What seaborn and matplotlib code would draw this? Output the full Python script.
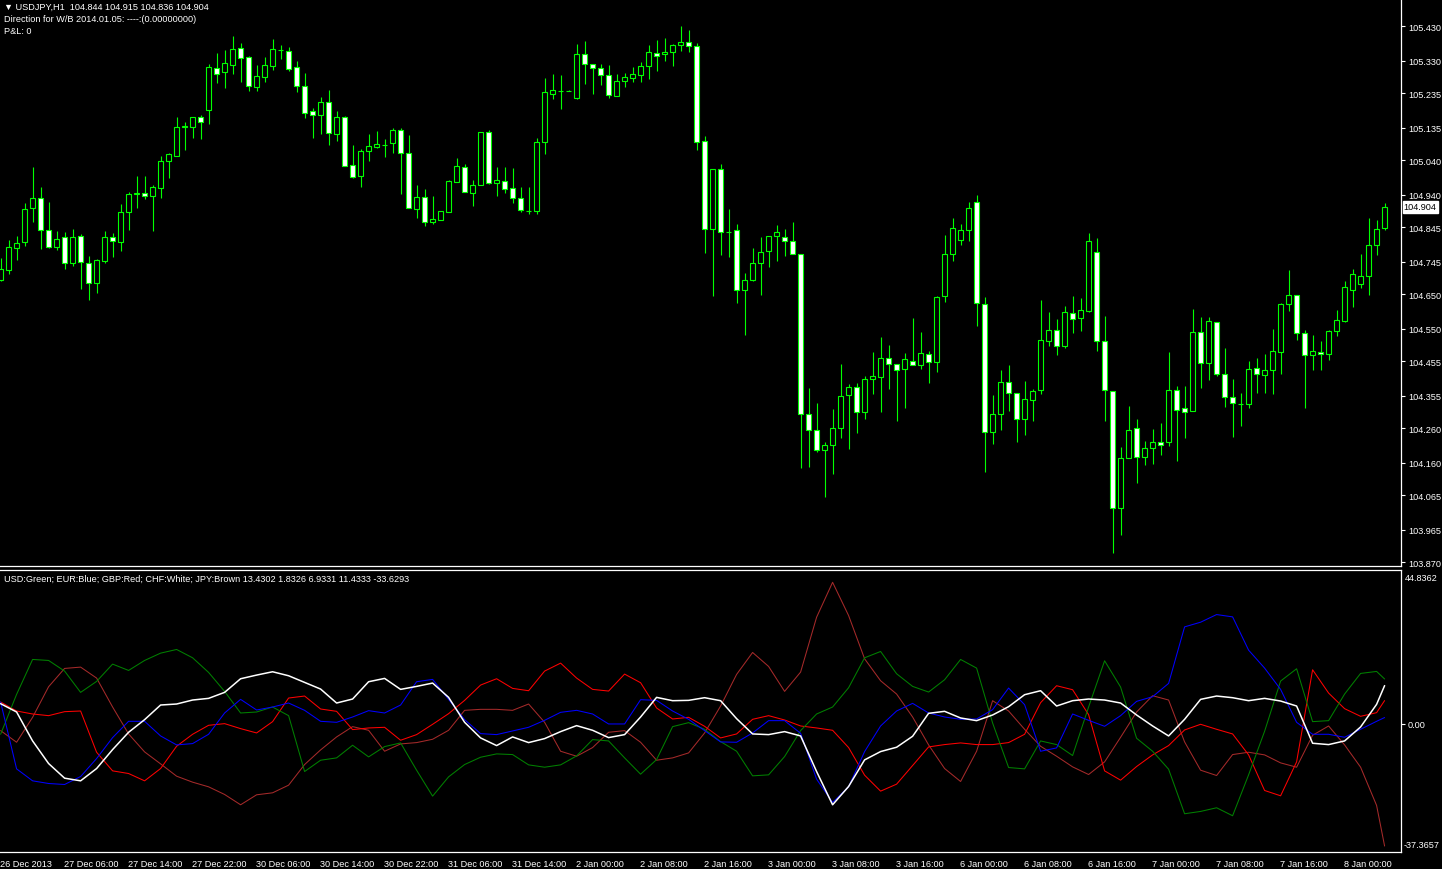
import numpy as np
import pandas as pd
import matplotlib
matplotlib.use("Agg")
import matplotlib.pyplot as plt
import matplotlib.transforms as mtransforms
import seaborn as sns

sns.set_theme(style="dark", rc={"axes.facecolor": "black", "figure.facecolor": "black"})
plt.rcParams['font.family'] = ['Liberation Sans', 'DejaVu Sans']

# ------------------------------
# USDJPY H1 candles (bar 0 = 26 Dec 2013)
# ------------------------------
opens = [104.692, 104.721, 104.783, 104.802, 104.900, 104.929, 104.838, 104.788, 104.815, 104.742,
         104.818, 104.742, 104.684, 104.747, 104.815, 104.802, 104.888, 104.941, 104.944, 104.936,
         104.958, 105.038, 105.053, 105.136, 105.137, 105.165, 105.187, 105.307, 105.297, 105.317,
         105.365, 105.339, 105.253, 105.283, 105.315, 105.361, 105.359, 105.310, 105.255, 105.183,
         105.172, 105.209, 105.117, 105.167, 105.026, 104.993, 105.068, 105.079, 105.084, 105.089,
         105.129, 105.060, 104.897, 104.932, 104.859, 104.866, 104.890, 104.977, 105.019, 104.945,
         104.969, 105.121, 104.975, 104.978, 104.958, 104.929, 104.893, 104.893, 105.092, 105.234,
         105.242, 105.242, 105.221, 105.348, 105.319, 105.307, 105.287, 105.227, 105.271, 105.280,
         105.288, 105.315, 105.353, 105.348, 105.355, 105.376, 105.383, 105.371, 105.095, 104.841,
         105.013, 104.831, 104.836, 104.663, 104.691, 104.742, 104.777, 104.818, 104.815, 104.806,
         104.766, 104.300, 104.256, 104.198, 104.210, 104.262, 104.357, 104.379, 104.306, 104.402,
         104.408, 104.463, 104.446, 104.431, 104.457, 104.443, 104.475, 104.454, 104.646, 104.766,
         104.809, 104.836, 104.917, 104.620, 104.248, 104.300, 104.393, 104.361, 104.286, 104.341,
         104.370, 104.515, 104.545, 104.498, 104.594, 104.581, 104.602, 104.772, 104.515, 104.367,
         104.029, 104.172, 104.262, 104.175, 104.201, 104.219, 104.219, 104.370, 104.318, 104.309,
         104.539, 104.449, 104.568, 104.419, 104.352, 104.330, 104.329, 104.434, 104.414, 104.428,
         104.483, 104.620, 104.649, 104.536, 104.472, 104.483, 104.475, 104.542, 104.573, 104.661,
         104.681, 104.702, 104.792, 104.844]
highs = [104.754, 104.807, 104.818, 104.915, 105.020, 104.962, 104.918, 104.834, 104.830, 104.841,
         104.825, 104.760, 104.752, 104.834, 104.828, 104.911, 104.946, 104.994, 104.994, 104.967,
         105.052, 105.061, 105.165, 105.151, 105.167, 105.171, 105.319, 105.351, 105.360, 105.400,
         105.381, 105.342, 105.317, 105.340, 105.392, 105.375, 105.368, 105.328, 105.293, 105.191,
         105.223, 105.244, 105.183, 105.169, 105.084, 105.072, 105.116, 105.125, 105.101, 105.135,
         105.133, 105.113, 104.967, 104.956, 104.935, 104.891, 104.981, 105.046, 105.028, 104.982,
         105.121, 105.127, 105.020, 105.020, 105.017, 104.962, 104.962, 105.104, 105.279, 105.290,
         105.287, 105.244, 105.378, 105.386, 105.319, 105.319, 105.317, 105.290, 105.295, 105.311,
         105.325, 105.375, 105.389, 105.395, 105.378, 105.430, 105.418, 105.380, 105.111, 105.013,
         105.028, 104.898, 104.854, 104.713, 104.784, 104.816, 104.818, 104.851, 104.839, 104.860,
         104.766, 104.377, 104.333, 104.219, 104.316, 104.446, 104.388, 104.391, 104.412, 104.481,
         104.525, 104.502, 104.446, 104.479, 104.580, 104.540, 104.484, 104.646, 104.822, 104.871,
         104.854, 104.918, 104.938, 104.641, 104.356, 104.429, 104.444, 104.361, 104.397, 104.374,
         104.633, 104.598, 104.579, 104.616, 104.644, 104.639, 104.828, 104.813, 104.586, 104.367,
         104.205, 104.324, 104.286, 104.222, 104.257, 104.275, 104.481, 104.382, 104.382, 104.607,
         104.583, 104.583, 104.568, 104.493, 104.403, 104.362, 104.455, 104.464, 104.476, 104.548,
         104.624, 104.720, 104.649, 104.545, 104.531, 104.513, 104.545, 104.604, 104.688, 104.723,
         104.767, 104.871, 104.866, 104.915]
lows = [104.688, 104.708, 104.750, 104.791, 104.861, 104.781, 104.785, 104.779, 104.723, 104.733,
        104.665, 104.633, 104.653, 104.740, 104.759, 104.775, 104.836, 104.900, 104.927, 104.834,
        104.930, 104.988, 105.053, 105.069, 105.104, 105.101, 105.145, 105.266, 105.250, 105.290,
        105.267, 105.242, 105.242, 105.267, 105.303, 105.334, 105.300, 105.239, 105.163, 105.104,
        105.117, 105.085, 105.096, 105.024, 104.987, 104.962, 105.038, 105.074, 105.050, 105.061,
        104.942, 104.900, 104.872, 104.849, 104.853, 104.866, 104.888, 104.977, 104.946, 104.906,
        104.969, 104.971, 104.936, 104.945, 104.916, 104.890, 104.884, 104.884, 105.058, 105.218,
        105.188, 105.240, 105.218, 105.261, 105.232, 105.259, 105.221, 105.227, 105.253, 105.267,
        105.267, 105.276, 105.299, 105.328, 105.314, 105.357, 105.355, 105.069, 104.770, 104.645,
        104.764, 104.759, 104.625, 104.532, 104.689, 104.648, 104.730, 104.747, 104.762, 104.766,
        104.144, 104.148, 104.191, 104.060, 104.127, 104.232, 104.200, 104.247, 104.287, 104.359,
        104.308, 104.375, 104.282, 104.319, 104.443, 104.431, 104.392, 104.424, 104.628, 104.747,
        104.794, 104.805, 104.558, 104.133, 104.215, 104.255, 104.311, 104.220, 104.241, 104.282,
        104.360, 104.500, 104.474, 104.494, 104.538, 104.543, 104.599, 104.485, 104.282, 103.897,
        103.950, 104.172, 104.101, 104.153, 104.156, 104.183, 104.209, 104.165, 104.232, 104.309,
        104.378, 104.401, 104.412, 104.322, 104.235, 104.267, 104.319, 104.363, 104.363, 104.360,
        104.418, 104.602, 104.517, 104.319, 104.430, 104.430, 104.459, 104.529, 104.570, 104.613,
        104.669, 104.648, 104.765, 104.836]
closes = [104.723, 104.786, 104.798, 104.897, 104.929, 104.837, 104.788, 104.812, 104.742, 104.815,
          104.744, 104.684, 104.749, 104.815, 104.805, 104.888, 104.941, 104.943, 104.936, 104.961,
          105.039, 105.058, 105.136, 105.138, 105.167, 105.152, 105.310, 105.291, 105.322, 105.363,
          105.338, 105.255, 105.284, 105.317, 105.363, 105.362, 105.306, 105.255, 105.178, 105.172,
          105.209, 105.120, 105.165, 105.024, 104.992, 105.068, 105.080, 105.086, 105.085, 105.129,
          105.060, 104.900, 104.934, 104.859, 104.870, 104.891, 104.978, 105.022, 104.946, 104.969,
          105.121, 104.975, 104.981, 104.957, 104.929, 104.894, 104.892, 105.092, 105.237, 105.243,
          105.242, 105.242, 105.348, 105.319, 105.307, 105.288, 105.230, 105.270, 105.281, 105.290,
          105.313, 105.356, 105.344, 105.356, 105.375, 105.383, 105.371, 105.093, 104.841, 105.013,
          104.831, 104.831, 104.663, 104.690, 104.742, 104.772, 104.818, 104.830, 104.806, 104.766,
          104.300, 104.256, 104.198, 104.211, 104.262, 104.355, 104.379, 104.306, 104.402, 104.411,
          104.463, 104.446, 104.428, 104.460, 104.443, 104.478, 104.454, 104.643, 104.766, 104.844,
          104.836, 104.900, 104.623, 104.248, 104.300, 104.393, 104.361, 104.286, 104.344, 104.367,
          104.518, 104.545, 104.498, 104.597, 104.579, 104.603, 104.804, 104.515, 104.370, 104.029,
          104.172, 104.256, 104.175, 104.201, 104.219, 104.210, 104.370, 104.312, 104.306, 104.539,
          104.449, 104.571, 104.417, 104.350, 104.332, 104.330, 104.431, 104.417, 104.428, 104.486,
          104.620, 104.649, 104.536, 104.472, 104.486, 104.475, 104.542, 104.574, 104.670, 104.708,
          104.702, 104.792, 104.841, 104.904]

price_ticks = [105.430, 105.330, 105.235, 105.135, 105.040, 104.940, 104.845, 104.745, 104.650,
               104.550, 104.455, 104.355, 104.260, 104.160, 104.065, 103.965, 103.870]

time_ticks = [0, 8, 16, 24, 32, 40, 48, 56, 64, 72, 80, 88, 96, 104, 112, 120, 128, 136, 144, 152, 160, 168]
time_labels = ["26 Dec 2013", "27 Dec 06:00", "27 Dec 14:00", "27 Dec 22:00", "30 Dec 06:00",
               "30 Dec 14:00", "30 Dec 22:00", "31 Dec 06:00", "31 Dec 14:00", "2 Jan 00:00",
               "2 Jan 08:00", "2 Jan 16:00", "3 Jan 00:00", "3 Jan 08:00", "3 Jan 16:00",
               "6 Jan 00:00", "6 Jan 08:00", "6 Jan 16:00", "7 Jan 00:00", "7 Jan 08:00",
               "7 Jan 16:00", "8 Jan 00:00"]

# ------------------------------
# currency strength indicator (read every 2 bars + last bar)
# ------------------------------
ind_bars = list(range(0, 173, 2)) + [173]
usd = [-3.2, 8.8, 19.3, 19.0, 15.8, 9.4, 12.7, 17.9, 16.0, 19.0, 21.2, 22.3, 19.8, 15.4, 9.7, 3.2,
       3.5, 5.0, 2.4, -14.4, -11.0, -10.3, -6.5, -10.0, -6.9, -5.8, -14.0, -21.8, -16.0, -12.3,
       -10.1, -9.1, -9.3, -12.4, -13.1, -12.4, -9.7, -4.8, -5.2, -10.3, -15.2, -10.8, -0.9, 0.3,
       -1.7, -5.4, -8.3, -15.7, -15.4, -9.9, -2.1, 2.9, 5.0, 10.8, 19.8, 21.7, 15.0, 11.2, 9.5,
       13.2, 19.3, 16.7, 0.2, -13.2, -13.6, -5.2, -6.3, -9.6, 5.0, 18.9, 11.0, -4.4, -8.3, -13.7,
       -27.1, -26.4, -25.3, -27.7, -15.4, -2.3, 12.8, 16.5, 0.6, 0.9, 8.9, 15.1, 15.7, 13.43]
eur = [6.5, -13.6, -17.2, -18.0, -18.3, -15.9, -10.5, -4.2, 0.7, 0.7, -3.7, -6.4, -6.0, -3.2, 3.2,
       7.3, 4.1, 5.0, 6.2, 4.0, 0.7, 0.4, 2.0, 3.9, 3.2, 5.6, 12.6, 13.3, 7.3, 1.2, -3.0, -3.3,
       -2.2, -1.1, 1.0, 3.4, 4.0, 2.9, -0.1, -0.1, 7.2, 7.0, 3.8, 1.3, -2.1, -5.5, -5.6, -2.8, 0.9,
       0.9, -2.9, -16.7, -23.7, -19.0, -8.4, -0.7, 3.8, 6.1, 3.2, 2.0, 1.3, 1.4, 4.2, 10.7, 5.7,
       -8.3, -7.3, 2.9, 1.0, -0.8, 2.4, 6.7, 8.1, 12.1, 29.1, 30.5, 32.8, 32.1, 22.1, 16.7, 10.3,
       0.4, -3.2, -3.2, -4.1, -1.7, 0.7, 1.83]
gbp = [6.5, 3.8, 2.9, 2.4, 3.6, 3.8, -8.6, -14.2, -15.0, -17.2, -13.5, -6.8, -3.2, -0.5, 0.0, -1.5,
       -2.8, 0.6, 7.7, 8.3, 4.4, 3.7, -1.8, -1.3, -1.1, -5.0, -3.3, -0.2, 3.0, 7.0, 11.6, 13.5,
       10.6, 9.9, 15.8, 18.2, 13.7, 10.3, 9.8, 14.9, 12.3, 4.7, 1.4, 1.9, -0.8, -4.3, -3.1, 1.3,
       2.4, 1.1, -0.7, -1.3, -2.0, -7.2, -15.5, -20.3, -18.2, -12.6, -7.0, -6.3, -5.8, -6.3, -6.3,
       -5.7, -3.2, 6.3, 11.4, 10.2, 2.7, -14.2, -17.0, -12.9, -9.4, -6.6, -1.9, -0.2, -1.7, -3.1,
       -9.4, -20.1, -21.7, -11.5, 16.2, 9.2, 4.5, 2.2, 3.3, 6.93]
chf = [6.0, 3.5, -5.2, -12.0, -16.4, -17.2, -13.5, -7.8, -2.6, 1.2, 5.6, 5.9, 7.1, 7.6, 9.4, 13.5,
       14.6, 15.6, 14.4, 12.4, 10.4, 6.2, 7.4, 12.6, 13.6, 10.3, 11.2, 12.2, 7.9, 0.4, -4.3, -6.6,
       -4.0, -5.7, -4.5, -2.4, -0.6, -2.0, -4.2, -3.3, 2.0, 7.9, 6.9, 7.0, 7.8, 6.9, 1.5, -3.1,
       -3.3, -2.4, -3.7, -14.4, -24.4, -18.9, -10.9, -8.4, -7.1, -3.8, 3.1, 3.7, 1.7, 0.9, 2.6, 5.1,
       8.7, 9.9, 5.3, 6.9, 7.4, 7.1, 6.2, 2.6, -0.7, -3.7, 1.3, 7.3, 8.3, 7.8, 6.9, 7.6, 6.8, 5.3,
       -5.9, -6.3, -5.2, -1.0, 5.8, 11.43]
jpy = [-2.1, -5.6, 1.9, 11.1, 16.6, 17.0, 13.7, 5.0, -3.1, -8.5, -12.1, -15.8, -17.6, -19.0, -21.3,
       -24.4, -21.4, -20.8, -18.5, -12.3, -7.9, -4.0, -0.9, -2.0, -8.3, -6.1, -5.7, -4.7, -2.0, 4.0,
       4.3, 4.3, 4.0, 5.9, 0.4, -8.3, -9.8, -7.2, -2.6, -2.1, -5.6, -11.0, -10.3, -8.8, -2.8, 5.3,
       14.8, 21.4, 17.2, 9.7, 15.5, 32.0, 42.5, 32.5, 19.5, 12.9, 8.9, 2.0, -6.4, -13.5, -17.4,
       -8.3, 6.9, 3.8, -1.7, -6.8, -9.8, -13.0, -15.3, -11.5, -4.1, 3.5, 8.4, 7.1, -5.5, -14.0,
       -15.6, -9.3, -8.6, -9.4, -11.8, -13.1, -3.5, -0.7, -6.4, -13.1, -24.6, -36.8]

lime = '#00ff00'
fs = 6.6
W, H = 1442, 870
fig = plt.figure(figsize=(W / 100, H / 100), dpi=100, facecolor='black')
ax = fig.add_axes([0, (H - 567) / H, 1401 / W, 567 / H])
ax2 = fig.add_axes([0, (H - 853) / H, 1401 / W, (853 - 571) / H])

for a in (ax, ax2):
    a.set_facecolor('black')
    a.grid(False)
    a.spines['left'].set_visible(False)
    a.spines['top'].set_visible(False)
    for s in ('right', 'bottom'):
        a.spines[s].set_color('white')
        a.spines[s].set_linewidth(0.9)
    a.set_xlim(-0.075, 175.05)
ax2.spines['top'].set_visible(True)
ax2.spines['top'].set_color('white')
ax2.spines['top'].set_linewidth(0.9)

# ------------------------------
# candles
# ------------------------------
o = np.array(opens); h = np.array(highs); l = np.array(lows); c = np.array(closes)
idx = np.arange(len(o))
up = c >= o
ax.vlines(idx, l, h, color=lime, linewidth=0.8, zorder=2)
ax.bar(idx[up], c[up] - o[up], bottom=o[up], width=0.6, color='black',
       edgecolor=lime, linewidth=0.8, zorder=3)
ax.bar(idx[~up], o[~up] - c[~up], bottom=c[~up], width=0.6, color='white',
       edgecolor=lime, linewidth=0.8, zorder=3)

ax.set_ylim(103.859, 105.509)
ax.set_xticks([])
ax.yaxis.tick_right()
ax.set_yticks(price_ticks)
ax.set_yticklabels([f"{v:.3f}" for v in price_ticks])
ax.tick_params(axis='y', colors='white', length=3, width=0.8, pad=2, labelsize=fs)
ax.annotate("104.904", xy=(1, closes[-1]), xycoords=('axes fraction', 'data'),
            xytext=(2, 0), textcoords='offset points', ha='left', va='center',
            fontsize=fs, color='black',
            bbox=dict(boxstyle='square,pad=0.12', fc='white', ec='white'))

fig.text(4 / W, 1 - 7 / H, "\u25bc USDJPY,H1  104.844 104.915 104.836 104.904",
         color='white', fontsize=fs, va='center', ha='left')
fig.text(4 / W, 1 - 20 / H, "Direction for W/B 2014.01.05: ----:(0.00000000)",
         color='white', fontsize=fs, va='center', ha='left')
fig.text(4 / W, 1 - 32 / H, "P&L: 0", color='white', fontsize=fs, va='center', ha='left')

# ------------------------------
# indicator lines
# ------------------------------
ind = pd.DataFrame({
    'bar': ind_bars * 5,
    'value': usd + eur + gbp + chf + jpy,
    'cur': ['USD'] * len(usd) + ['EUR'] * len(eur) + ['GBP'] * len(gbp)
           + ['CHF'] * len(chf) + ['JPY'] * len(jpy),
})
palette = {'USD': '#008000', 'EUR': '#0000ff', 'GBP': '#ff0000', 'CHF': '#ffffff', 'JPY': '#a52a2a'}
for cur in ['JPY', 'GBP', 'USD', 'EUR', 'CHF']:
    sns.lineplot(data=ind[ind['cur'] == cur], x='bar', y='value', color=palette[cur],
                 ax=ax2, linewidth=0.75 if cur != 'CHF' else 1.1, legend=False,
                 estimator=None, sort=False)

ax2.set_ylim(-38.6, 46.2)
ax2.set_xlabel('')
ax2.set_ylabel('')
ax2.yaxis.tick_right()
ax2.set_yticks([0])
ax2.set_yticklabels(['0.00'])
ax2.tick_params(axis='y', colors='white', length=3, width=0.8, pad=2, labelsize=fs)
ax2.annotate("44.8362", xy=(1, 1), xycoords='axes fraction', xytext=(3, -2),
             textcoords='offset points', color='white', fontsize=fs, ha='left', va='top')
ax2.annotate("-37.3657", xy=(1, 0), xycoords='axes fraction', xytext=(2, 2),
             textcoords='offset points', color='white', fontsize=fs, ha='left', va='bottom')
ax2.text(4 / 1401, 0.985,
         "USD:Green; EUR:Blue; GBP:Red; CHF:White; JPY:Brown 13.4302 1.8326 6.9331 11.4333 -33.6293",
         transform=ax2.transAxes, color='white', fontsize=fs, ha='left', va='top')

ax2.set_xticks(time_ticks)
ax2.set_xticklabels(time_labels)
ax2.tick_params(axis='x', colors='white', length=4, width=0.8, pad=1, labelsize=fs, direction='out')
shift = mtransforms.ScaledTranslation(-1 / 100, 0, fig.dpi_scale_trans)
for lab in ax2.get_xticklabels():
    lab.set_horizontalalignment('left')
    lab.set_transform(lab.get_transform() + shift)

fig.savefig("out.png", dpi=100, facecolor='black')
